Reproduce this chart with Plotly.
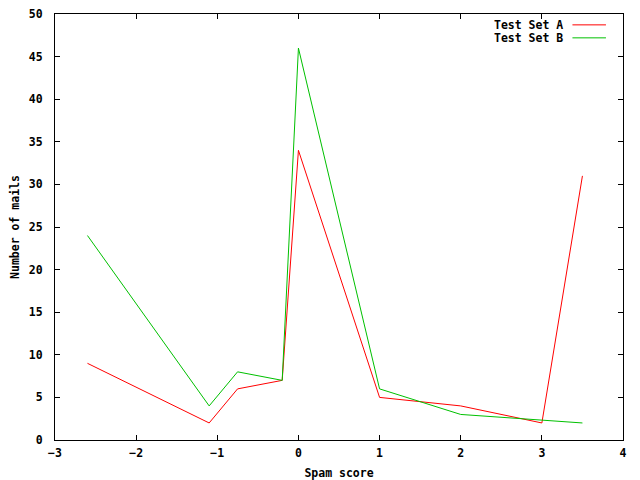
import plotly.graph_objects as go

# Data
x_a = [-2.6, -1.1, -0.75, -0.2, 0.0, 1.0, 2.0, 3.0, 3.5]
y_a = [9, 2, 6, 7, 34, 5, 4, 2, 31]
x_b = [-2.6, -1.1, -0.75, -0.2, 0.0, 1.0, 2.0, 3.5]
y_b = [24, 4, 8, 7, 46, 6, 3, 2]
series_names = ["Test Set A", "Test Set B"]
series_colors = ["#ff0000", "#00c000"]
x_ticks = [-3, -2, -1, 0, 1, 2, 3, 4]
y_ticks = [0, 5, 10, 15, 20, 25, 30, 35, 40, 45, 50]

FONT = dict(family="DejaVu Sans Mono", size=11.5, color="black", weight="bold")

fig = go.Figure()
for xs, ys, name, col in [(x_a, y_a, series_names[0], series_colors[0]),
                          (x_b, y_b, series_names[1], series_colors[1])]:
    fig.add_trace(go.Scatter(x=xs, y=ys, mode="lines", name=name,
                             line=dict(color=col, width=1), showlegend=False))

axis_common = dict(showline=True, linecolor="black", linewidth=1, mirror="ticks",
                   ticks="inside", ticklen=5, tickcolor="black", tickwidth=1,
                   showgrid=False, zeroline=False, tickfont=FONT, automargin=False,
                   ticklabeloverflow="allow")
fig.update_xaxes(range=[-3, 4], tickvals=x_ticks, ticklabelstandoff=2,
                 title=dict(text="Spam score", font=FONT, standoff=10),
                 **axis_common)
fig.update_yaxes(range=[0, 50], tickvals=y_ticks, ticklabelstandoff=9,
                 title=dict(text="Number of mails", font=FONT, standoff=7),
                 **axis_common)

# Gnuplot-style legend: text then line sample
legend_y = [0.9745, 0.944]
for name, col, ly in zip(series_names, series_colors, legend_y):
    fig.add_annotation(x=0.898, y=ly, xref="paper", yref="paper", text=name,
                       showarrow=False, xanchor="right", yanchor="middle", font=FONT)
    fig.add_shape(type="line", xref="paper", yref="paper", x0=0.911, x1=0.970, y0=ly, y1=ly,
                  line=dict(color=col, width=1))

# page body adds an 8px margin, so the figure is 8px smaller than the window
fig.update_layout(width=632, height=472, margin=dict(l=47, r=17, t=6, b=40),
                  paper_bgcolor="white", plot_bgcolor="white", font=FONT)
fig.write_html("out.html")
